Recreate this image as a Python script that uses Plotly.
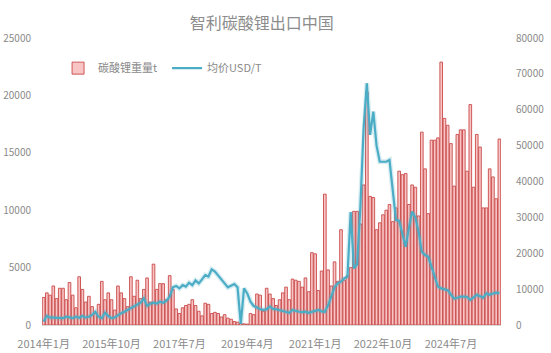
import plotly.graph_objects as go

# ---- categories: monthly, 2014-01 .. 2025-10 ----
months = [f"{y}-{m:02d}" for y in range(2014, 2026) for m in range(1, 13)][:142]
tick_vals = ["2014-01", "2015-10", "2017-07", "2019-04", "2021-01", "2022-10", "2024-07"]
tick_text = ["2014年1月", "2015年10月", "2017年7月", "2019年4月", "2021年1月", "2022年10月", "2024年7月"]

# ---- 碳酸锂重量t (left axis) ----
weight_t = [
    2400, 2800, 2600, 3400, 2300, 3200, 3200, 2200, 3700, 2600, 1500, 4200,   # 2014
    3100, 2000, 2500, 1600, 1000, 1800, 3800, 2200, 2800, 2200, 1300, 3400,   # 2015
    2800, 2300, 1600, 4200, 2500, 3900, 2300, 3100, 4100, 2000, 5300, 3100,   # 2016
    3600, 3600, 2200, 4300, 3100, 1400, 1000, 1500, 1700, 1800, 2200, 1700,   # 2017
    1200, 800, 1900, 1800, 1000, 1100, 1000, 700, 900, 600, 500, 300,         # 2018
    250, 150, 100, 80, 1000, 900, 2700, 2600, 1200, 3200, 2700, 2300,         # 2019
    1700, 2200, 2800, 3300, 2200, 4000, 3900, 3800, 3300, 4100, 2900, 6300,   # 2020
    6200, 3000, 4700, 11400, 4800, 3400, 5500, 3800, 8300, 3900, 4300, 5000,  # 2021
    9900, 9900, 8800, 12200, 20300, 11200, 11100, 8300, 8900, 9600, 10000, 10500,  # 2022
    9000, 10200, 13400, 13100, 13200, 10500, 12200, 12000, 9500, 16800, 13600, 9700,  # 2023
    16100, 16100, 16300, 22900, 18000, 17400, 15800, 12100, 16600, 17000, 17000, 13400,  # 2024
    19200, 12000, 16600, 15500, 10200, 10200, 13600, 12900, 11000, 16200,   # 2025
]

# ---- 均价USD/T (right axis) ----
price_usd = [
    930, 2500, 2100, 2100, 2000, 2100, 1900, 2300, 2100, 1900, 2300, 2000,
    2500, 2100, 2300, 2800, 3700, 2300, 1900, 3400, 2500, 1900, 2100, 2800,
    3300, 3700, 4200, 4600, 5300, 5600, 6200, 7400, 5400, 5900, 6200, 6000,
    6500, 6200, 6800, 7900, 10500, 10900, 10200, 11100, 10700, 11800, 11100, 12400,
    11600, 12700, 13900, 13500, 15500, 14900, 13700, 12700, 11600, 10500, 10900, 11400,
    10500, 300, 10200, 8800, 6500, 5300, 4900, 4400, 4200, 4400, 5100, 4500,
    4400, 4200, 4000, 3700, 3400, 4200, 3900, 3700, 3600, 3700, 3400, 3600,
    4000, 4200, 3800, 3700, 5500, 7900, 10500, 11600, 12100, 13000, 13500, 31500,
    15800, 17000, 33000, 55000, 67400, 53000, 59500, 50000, 45500, 45500, 45500, 46000,
    38000, 29300, 29000, 25000, 21800, 27000, 31600, 30000, 26000, 20400, 19500, 19000,
    16000, 13000, 10700, 10200, 10000, 9700, 8500, 7400, 7600, 7900, 7900, 7800,
    7000, 7600, 8400, 8000, 7600, 8800, 8400, 8800, 9000, 8800,
]

FONT = "Noto Sans CJK SC"
GRAY = "#8a8a8a"
LINE_C = "#4bacc6"

fig = go.Figure()
fig.add_trace(go.Bar(
    x=months, y=weight_t, name="碳酸锂重量t",
    marker=dict(color="#f8c4c4", line=dict(color="#c9494a", width=0.9)),
    yaxis="y",
))
fig.add_trace(go.Scatter(
    x=months, y=price_usd, mode="lines", showlegend=False, hoverinfo="skip",
    line=dict(color="rgba(75,172,198,0.22)", width=5), yaxis="y2",
))
fig.add_trace(go.Scatter(
    x=months, y=price_usd, name="均价USD/T", mode="lines",
    line=dict(color=LINE_C, width=2.2), yaxis="y2",
))

fig.update_layout(
    width=551, height=353,
    margin=dict(l=42, r=50, t=38, b=28, autoexpand=False),
    paper_bgcolor="white", plot_bgcolor="white",
    font=dict(family=FONT, color=GRAY, size=11),
    title=dict(text="智利碳酸锂出口中国", x=0.475, xanchor="center", y=0.935, yanchor="middle",
               font=dict(family=FONT, size=16, color="#8c8c8c")),
    bargap=0.18,
    showlegend=True,
    legend=dict(orientation="h", x=0.035, y=0.895, xanchor="left", yanchor="middle",
                font=dict(family=FONT, size=11, color=GRAY), bgcolor="rgba(0,0,0,0)",
                itemwidth=30, tracegroupgap=0, entrywidth=64, entrywidthmode="pixels"),
    xaxis=dict(type="category", categoryorder="array", categoryarray=months,
               tickmode="array", tickvals=tick_vals, ticktext=tick_text,
               tickfont=dict(size=11, color=GRAY), showgrid=False, ticks="",
               showline=True, linecolor="#d9d9d9", linewidth=1, zeroline=False,
               range=[-0.5, 141.5], ticklabelstandoff=9, automargin=False),
    yaxis=dict(range=[0, 25000], dtick=5000, tickformat="d", showgrid=False, zeroline=False,
               tickfont=dict(size=10, color=GRAY), ticks="", showline=False,
               ticklabelstandoff=10, automargin=False),
    yaxis2=dict(range=[0, 80000], dtick=10000, tickformat="d", overlaying="y", side="right",
                showgrid=False, zeroline=False, tickfont=dict(size=10, color=GRAY),
                ticks="", showline=False, ticklabelstandoff=14, automargin=False),
)

fig.write_html("out.html")
